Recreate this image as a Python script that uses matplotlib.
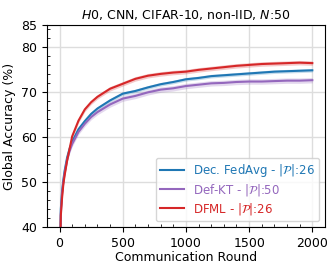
import matplotlib
matplotlib.use("Agg")
import matplotlib.pyplot as plt
from matplotlib.ticker import MultipleLocator

ROUNDS = [0, 10, 20, 30, 40, 60, 80, 100, 150, 200, 250, 300, 400, 500,
          600, 700, 800, 900, 1000, 1100, 1200, 1300, 1400, 1500, 1600,
          1700, 1800, 1900, 2000]

FEDAVG = [25, 44, 48, 50.5, 52.5, 55.5, 57.5, 59.0, 61.8, 63.6, 65.2, 66.4,
          68.2, 69.7, 70.3, 71.1, 71.8, 72.3, 72.9, 73.2, 73.6, 73.8, 74.0,
          74.2, 74.4, 74.6, 74.7, 74.8, 74.9]
DEFKT = [25, 43, 47.5, 50, 52, 55, 57, 58.5, 61.2, 63.0, 64.5, 65.6, 67.3,
         68.6, 69.2, 70.0, 70.6, 70.9, 71.4, 71.7, 72.0, 72.1, 72.3, 72.4,
         72.4, 72.5, 72.6, 72.6, 72.7]
DFML = [25, 42.5, 46.5, 49.5, 51.5, 54.8, 57.5, 60.2, 63.7, 66.2, 67.8, 69.0,
        70.8, 71.9, 73.0, 73.7, 74.1, 74.4, 74.6, 75.0, 75.3, 75.6, 75.9,
        76.1, 76.3, 76.4, 76.5, 76.6, 76.5]

# rough half width of the shaded spread for each method
FEDAVG_STD = 0.4
DEFKT_STD = 0.6
DFML_STD = 0.5

LABELS = [r"Dec. FedAvg - $|\mathcal{P}|$:26",
          r"Def-KT - $|\mathcal{P}|$:50",
          r"DFML - $|\mathcal{P}|$:26"]
COLORS = ["#1f77b4", "#9467bd", "#d62728"]

fig = plt.figure(figsize=(3.35, 2.71), dpi=100)
ax = fig.add_axes([0.140, 0.162, 0.830, 0.746])

for vals, std, lab, col in zip([FEDAVG, DEFKT, DFML],
                               [FEDAVG_STD, DEFKT_STD, DFML_STD],
                               LABELS, COLORS):
    lo = [v - std for v in vals]
    hi = [v + std for v in vals]
    ax.fill_between(ROUNDS, lo, hi, color=col, alpha=0.25, lw=0)
    ax.plot(ROUNDS, vals, color=col, lw=1.5, label=lab)

ax.set_xlim(-100, 2100)
ax.set_ylim(40, 85)
ax.set_yticks([40, 50, 60, 70, 80, 85])
ax.xaxis.set_major_locator(MultipleLocator(500))
ax.xaxis.set_minor_locator(MultipleLocator(100))
ax.yaxis.set_minor_locator(MultipleLocator(2))
ax.tick_params(which="major", direction="out", labelsize=9)
ax.tick_params(which="minor", direction="in", length=2.5)
ax.grid(True, which="major", color="#dddddd", lw=1)
ax.set_axisbelow(True)

ax.set_xlabel("Communication Round", fontsize=9, labelpad=1)
ax.set_ylabel("Global Accuracy (%)", fontsize=9)
ax.set_title(r"$H0$, CNN, CIFAR-10, non-IID, $N$:50", fontsize=9, pad=4)

leg = ax.legend(loc="lower right", fontsize=8.5, labelcolor="linecolor",
                handlelength=2.0, borderpad=0.35, labelspacing=0.25)

fig.savefig("out.png", dpi=100)
